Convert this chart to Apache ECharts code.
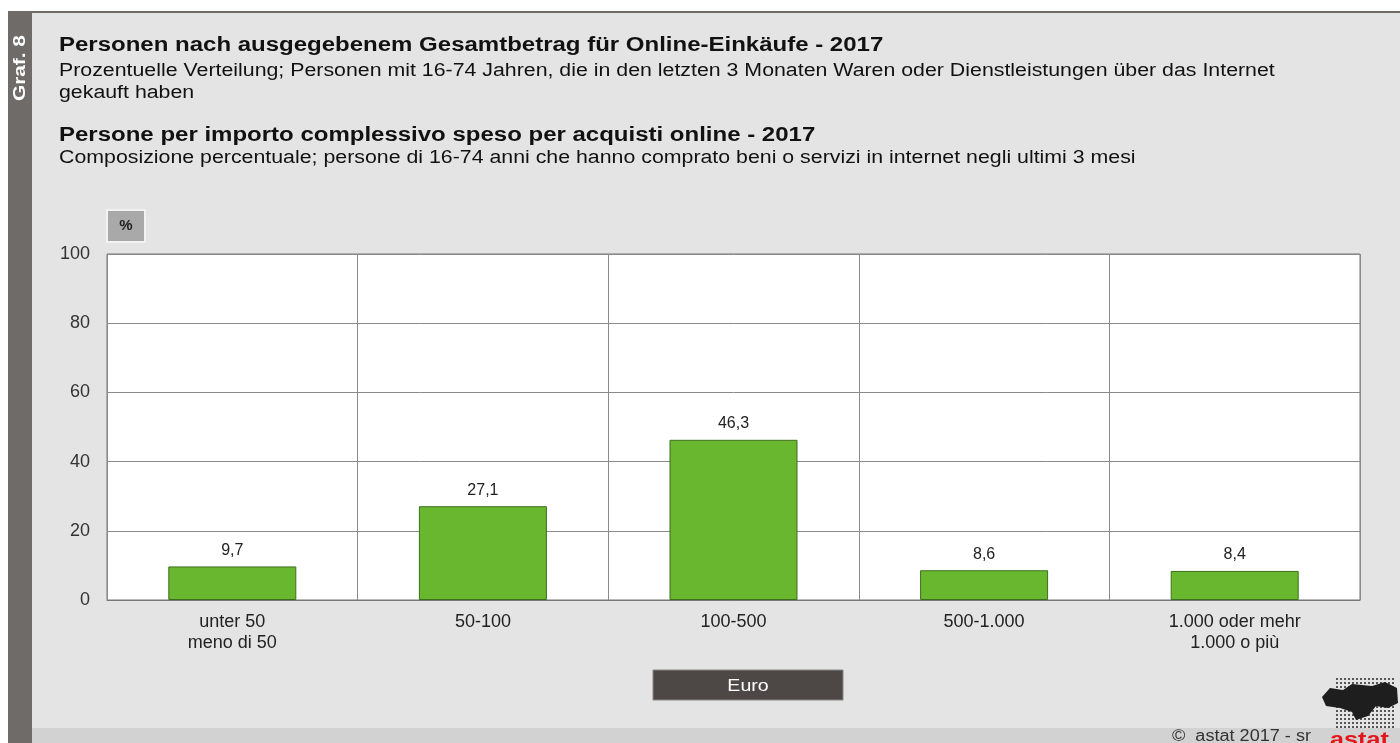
<!DOCTYPE html>
<html>
<head>
<meta charset="utf-8">
<script src="https://cdn.jsdelivr.net/npm/echarts@6/dist/echarts.min.js"></script>
<style>
html, body { margin: 0; padding: 0; background: #fff; }
#container { width: 1400px; height: 743px; }
</style>
</head>
<body>
<div id="container"></div>
<script>
var categories = ['unter 50\nmeno di 50', '50-100', '100-500', '500-1.000', '1.000 oder mehr\n1.000 o più'];
var values = [9.7, 27.1, 46.3, 8.6, 8.4];
var yTicks = [0, 20, 40, 60, 80, 100];

var font = '"Liberation Sans", Arial, sans-serif';
var myChart = echarts.init(document.getElementById('container'));

// the original is a little stretched sideways, so the texts get a scaleX
function headText(str, y, bold) {
    return {
        type: 'text', x: 59, y: y, scaleX: bold ? 1.2 : 1.185,
        style: {
            text: str, fill: '#111',
            font: (bold ? 'bold 20px ' : '18px ') + font,
            textAlign: 'left', textVerticalAlign: 'middle'
        }
    };
}

var logoShape = [[1322, 697], [1330, 688], [1343, 690], [1352, 684], [1372, 686], [1385, 682], [1397, 688], [1398, 703], [1388, 708], [1376, 706], [1368, 716], [1356, 720], [1352, 712], [1340, 708], [1326, 706]];

// dotted backdrop of the logo
var logoDots = [];
for (var dx = 1336; dx <= 1392; dx += 4) {
    for (var dy = 678; dy <= 726; dy += 4) {
        logoDots.push({ type: 'rect', shape: { x: dx, y: dy, width: 2, height: 2 }, style: { fill: '#555' } });
    }
}

var option = {
    backgroundColor: '#ffffff',
    textStyle: { fontFamily: font },
    graphic: [
        // page background
        { type: 'rect', z: -10, shape: { x: 8, y: 11, width: 1392, height: 732 }, style: { fill: '#e4e4e4' } },
        { type: 'rect', z: -9, shape: { x: 8, y: 11, width: 1392, height: 2 }, style: { fill: '#6e6b69' } },
        { type: 'rect', z: -9, shape: { x: 8, y: 11, width: 24, height: 732 }, style: { fill: '#6e6b69' } },
        { type: 'rect', z: -9, shape: { x: 32, y: 728, width: 1368, height: 15 }, style: { fill: '#d2d2d2' } },
        { type: 'text', x: 21, y: 101, rotation: Math.PI / 2, scaleX: 1.3, style: { text: 'Graf. 8', fill: '#fff', font: 'bold 16px ' + font, textAlign: 'left', textVerticalAlign: 'middle' } },
        headText('Personen nach ausgegebenem Gesamtbetrag für Online-Einkäufe - 2017', 45, true),
        headText('Prozentuelle Verteilung; Personen mit 16-74 Jahren, die in den letzten 3 Monaten Waren oder Dienstleistungen über das Internet', 71, false),
        headText('gekauft haben', 93, false),
        headText('Persone per importo complessivo speso per acquisti online - 2017', 135, true),
        headText('Composizione percentuale; persone di 16-74 anni che hanno comprato beni o servizi in internet negli ultimi 3 mesi', 158, false),
        // % box
        { type: 'rect', shape: { x: 107, y: 210, width: 38, height: 32 }, style: { fill: '#a9a9a9', stroke: '#f2f2f2', lineWidth: 2 } },
        { type: 'text', x: 126, y: 226, style: { text: '%', fill: '#222', font: 'bold 15px ' + font, textAlign: 'center', textVerticalAlign: 'middle' } },
        // Euro box
        { type: 'rect', shape: { x: 653, y: 670, width: 190, height: 30 }, style: { fill: '#4d4846', stroke: '#8a8584', lineWidth: 1 } },
        { type: 'text', x: 748, y: 686, scaleX: 1.15, style: { text: 'Euro', fill: '#fff', font: '17px ' + font, textAlign: 'center', textVerticalAlign: 'middle' } },
        // footer + logo
        { type: 'text', x: 1172, y: 737, scaleX: 1.13, style: { text: '©  astat 2017 - sr', fill: '#333', font: '16px ' + font, textAlign: 'left', textVerticalAlign: 'middle' } },
        { type: 'text', x: 1330, y: 740, scaleX: 1.2, style: { text: 'astat', fill: '#e3161b', font: 'bold 21px ' + font, textAlign: 'left', textVerticalAlign: 'middle' } }
    ].concat(logoDots).concat([
        { type: 'polygon', shape: { points: logoShape }, style: { fill: '#1e1e1e' } }
    ]),
    grid: { left: 107, right: 40, top: 254, bottom: 143, backgroundColor: '#fff', show: true, borderColor: '#777', borderWidth: 1 },
    xAxis: {
        type: 'category',
        data: categories,
        axisTick: { show: false },
        axisLine: { lineStyle: { color: '#777' } },
        splitLine: { show: true, lineStyle: { color: '#8a8a8a', width: 1 } },
        axisLabel: { fontFamily: font, fontSize: 18, color: '#222', lineHeight: 21, margin: 12 }
    },
    yAxis: {
        type: 'value',
        min: yTicks[0], max: yTicks[yTicks.length - 1], interval: 20,
        axisLine: { show: false },
        axisTick: { show: false },
        splitLine: { lineStyle: { color: '#8a8a8a', width: 1 } },
        axisLabel: { fontFamily: font, fontSize: 18, color: '#333', margin: 17 }
    },
    series: [{
        type: 'bar',
        data: values,
        barWidth: 128,
        itemStyle: { color: '#69b72f', borderColor: '#3c6e1d', borderWidth: 1 },
        label: {
            show: true, position: 'top', distance: 8,
            fontFamily: font, fontSize: 16, color: '#222',
            formatter: function (p) { return String(p.value).replace('.', ','); }
        }
    }]
};
myChart.setOption(option);
</script>
</body>
</html>
